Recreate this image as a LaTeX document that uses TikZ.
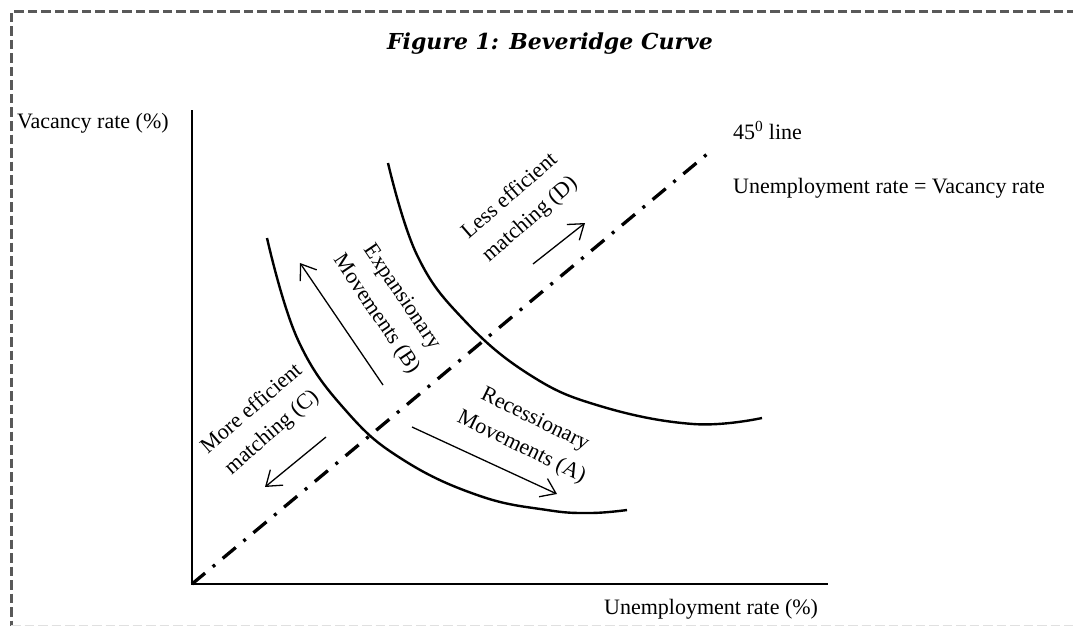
\documentclass[tikz,border=0pt]{standalone}
\usepackage{fontspec}
\setmainfont{Liberation Serif}
\newfontfamily\titlefont{DejaVu Serif}
\usetikzlibrary{arrows.meta}
\begin{document}
\begin{tikzpicture}[x=1pt,y=-1pt,
  lbl/.style={font=\fontsize{22}{31}\selectfont, inner sep=0pt},
  rlbl/.style={lbl, align=center},
  curve/.style={line width=2.4pt},
  axis/.style={line width=2pt},
  mv/.style={line width=1.3pt, -{Straight Barb[length=14pt,width=20pt,line width=1.3pt]}},
  frame/.style={line width=3pt, dash pattern=on 9.5pt off 4pt}
  ]
\useasboundingbox (0,0) rectangle (1073,626);
\fill[white] (0,0) rectangle (1073,626);
% frame
\draw[frame, black!65] (1090,12) -- (11,12) -- (11,630);
\draw[frame, black!12, line width=2pt] (11,625.5) -- (1090,625.5);
% title
\node[inner sep=0pt, anchor=base, font=\titlefont\bfseries\itshape\fontsize{22}{26}\selectfont] (title) at (550,49) {Figure 1: Beveridge Curve};
% axes
\coordinate (O) at (192,584);
\coordinate (ytop) at (192,110);
\coordinate (xend) at (828,584);
\draw[axis] (ytop) -- (O) -- (xend);
\node[lbl, anchor=base west] (ylab) at (17,128) {Vacancy rate (\%)};
\node[lbl, anchor=base west] (xlab) at (604,614) {Unemployment rate (\%)};
% 45 degree line
\coordinate (d45) at (712,150);
\draw[line width=3.3pt, dash pattern=on 17pt off 10pt on 3pt off 10pt] (O) -- (d45);
\node[lbl, anchor=base west] (l45) at (733,139) {45\textsuperscript{0} line};
\node[lbl, anchor=base west] (leq) at (733,193) {Unemployment rate = Vacancy rate};
% curves
\draw[curve] plot[smooth, tension=0.7] coordinates {(267,238) (298,340) (348,413) (405,461) (480,496) (547,510) (590,513) (627,510)};
\draw[curve] plot[smooth, tension=0.7] coordinates {(388,163) (417,255) (464,320) (530,375) (600,406) (693,424) (762,418)};
% movement arrows
\coordinate (Bt) at (383,385); \coordinate (Bh) at (300,263);
\coordinate (At) at (412,427); \coordinate (Ah) at (557,494);
\coordinate (Ct) at (326,437); \coordinate (Ch) at (265,487);
\coordinate (Dt) at (533,264); \coordinate (Dh) at (585,223);
\draw[mv] (Bt) -- (Bh);
\draw[mv] (At) -- (Ah);
\draw[mv] (Ct) -- (Ch);
\draw[mv] (Dt) -- (Dh);
% rotated labels
\node[rlbl, rotate=41] (labD) at (520,208) {Less efficient\\matching (D)};
\node[rlbl, rotate=-56] (labB) at (389,306) {Expansionary\\Movements (B)};
\node[rlbl, rotate=-26] (labA) at (528,434) {Recessionary\\Movements (A)};
\node[rlbl, rotate=41] (labC) at (262,421) {More efficient\\matching (C)};
\end{tikzpicture}
\end{document}
